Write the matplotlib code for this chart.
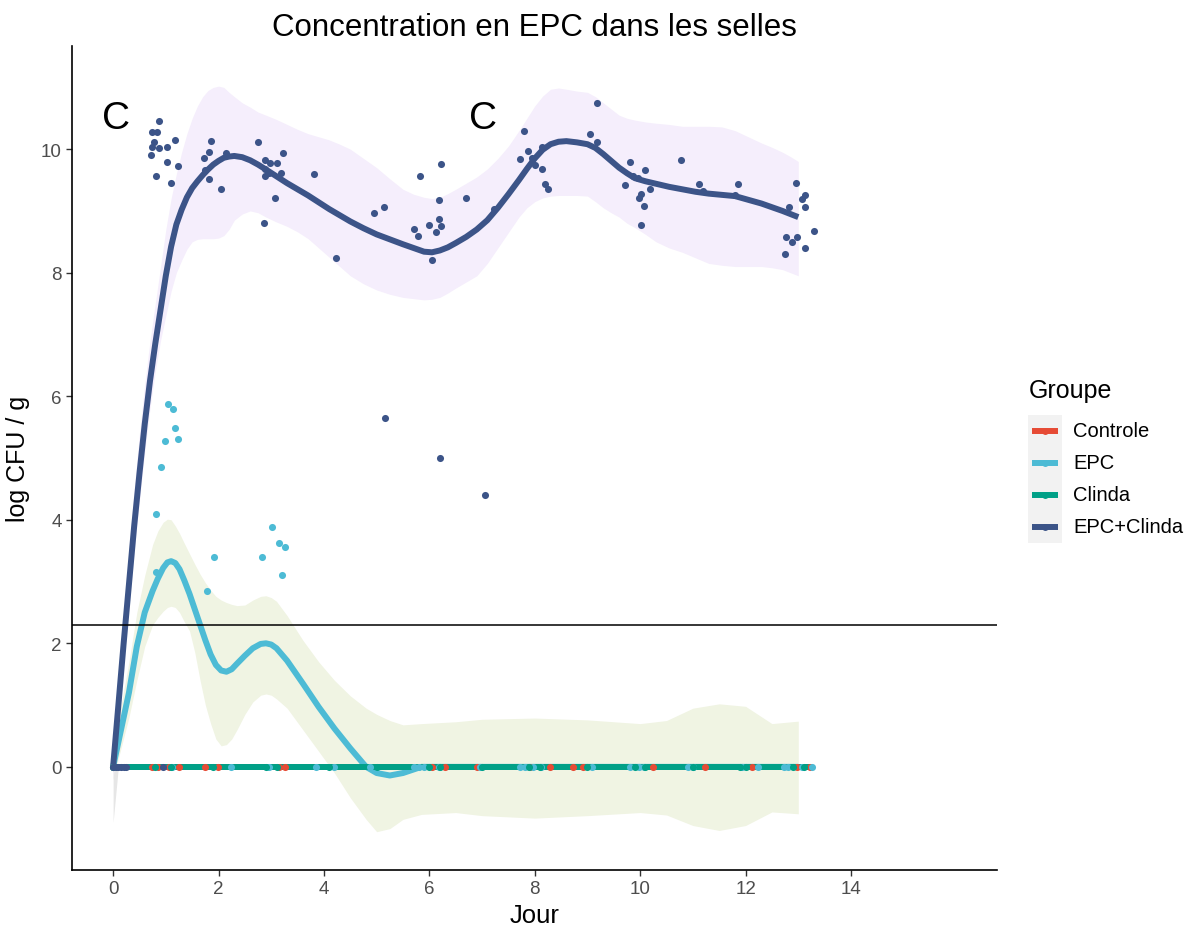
import numpy as np
import matplotlib.pyplot as plt
from matplotlib.patches import Rectangle
from matplotlib.lines import Line2D

plt.rcParams['font.family'] = ['Liberation Sans', 'DejaVu Sans']

groups = ['Controle', 'EPC', 'Clinda', 'EPC+Clinda']
colors = ['#E64B35', '#4DBBD5', '#00A087', '#3C5488']
band_ec_col = '#F5EEFC'
band_epc_col = '#F0F4E3'

# ---- smoothed curves ----
ec_sx = [0, 0.1, 0.2, 0.3, 0.4, 0.5, 0.6, 0.7, 0.8, 0.9, 1.0, 1.1, 1.2, 1.3, 1.4, 1.5, 1.6, 1.7,
         1.8, 1.9, 2.0, 2.1, 2.2, 2.3, 2.45, 2.6, 2.75, 2.9, 3.1, 3.3, 3.5, 3.7, 3.9, 4.1, 4.3, 4.5,
         4.75, 5.0, 5.25, 5.5, 5.7, 5.9, 6.05, 6.2, 6.35, 6.5, 6.7, 6.9, 7.1, 7.3, 7.5, 7.7, 7.85,
         8.0, 8.15, 8.3, 8.45, 8.6, 8.8, 9.0, 9.15, 9.3, 9.45, 9.6, 9.75, 9.9, 10.1, 10.3, 10.55,
         10.8, 11.05, 11.3, 11.55, 11.8, 12.05, 12.3, 12.5, 12.7, 12.85, 13.0]
ec_fit = [0, 1.0, 2.0, 2.95, 3.9, 4.75, 5.55, 6.25, 6.85, 7.4, 7.95, 8.42, 8.78, 9.02, 9.22, 9.37,
          9.48, 9.58, 9.67, 9.75, 9.81, 9.86, 9.88, 9.89, 9.87, 9.82, 9.75, 9.67, 9.56, 9.45, 9.35,
          9.25, 9.14, 9.03, 8.93, 8.83, 8.72, 8.62, 8.54, 8.46, 8.40, 8.34, 8.33, 8.36, 8.41, 8.48,
          8.58, 8.70, 8.85, 9.05, 9.27, 9.50, 9.68, 9.85, 9.99, 10.08, 10.12, 10.13, 10.11, 10.08,
          10.02, 9.92, 9.81, 9.70, 9.61, 9.53, 9.48, 9.44, 9.39, 9.35, 9.31, 9.28, 9.26, 9.24, 9.18,
          9.12, 9.06, 9.0, 8.95, 8.9]
ec_hi = [0.2, 1.3, 2.4, 3.5, 4.5, 5.4, 6.2, 6.9, 7.5, 8.1, 8.7, 9.2, 9.6, 9.95, 10.25, 10.5, 10.7,
         10.85, 10.95, 11.0, 11.02, 11.0, 10.92, 10.85, 10.75, 10.68, 10.6, 10.55, 10.48, 10.4, 10.32,
         10.25, 10.2, 10.15, 10.08, 10.0, 9.85, 9.7, 9.52, 9.35, 9.27, 9.22, 9.2, 9.22, 9.28, 9.35,
         9.45, 9.55, 9.68, 9.85, 10.05, 10.3, 10.5, 10.7, 10.86, 10.97, 10.99, 10.97, 10.94, 10.92,
         10.85, 10.75, 10.65, 10.55, 10.5, 10.47, 10.44, 10.42, 10.4, 10.37, 10.37, 10.37, 10.36,
         10.3, 10.2, 10.1, 10.03, 9.95, 9.88, 9.8]
ec_lo = [-0.2, 0.7, 1.7, 2.6, 3.5, 4.3, 5.1, 5.8, 6.4, 6.9, 7.3, 7.7, 8.0, 8.2, 8.38, 8.5, 8.54,
         8.55, 8.55, 8.55, 8.56, 8.6, 8.7, 8.85, 8.95, 9.0, 8.97, 8.9, 8.82, 8.75, 8.66, 8.55, 8.4,
         8.25, 8.1, 7.95, 7.82, 7.72, 7.65, 7.6, 7.58, 7.56, 7.57, 7.6, 7.67, 7.75, 7.85, 7.95, 8.15,
         8.4, 8.65, 8.9, 9.05, 9.15, 9.21, 9.24, 9.25, 9.25, 9.25, 9.24, 9.15, 9.05, 8.97, 8.9, 8.8,
         8.73, 8.62, 8.5, 8.4, 8.33, 8.24, 8.15, 8.12, 8.1, 8.1, 8.1, 8.08, 8.05, 8.0, 7.95]

epc_sx = [0, 0.15, 0.3, 0.45, 0.6, 0.75, 0.85, 0.95, 1.03, 1.1, 1.18, 1.26, 1.35, 1.45, 1.55,
          1.65, 1.75, 1.85, 1.95, 2.05, 2.15, 2.25, 2.35, 2.5, 2.65, 2.8, 2.9, 3.0, 3.1, 3.3, 3.6,
          3.9, 4.2, 4.5, 4.8, 5.0, 5.25, 5.5, 5.85, 6.5, 7.0, 8.0, 9.0, 10.0, 10.5, 11.0, 11.5,
          12.0, 12.5, 13.0]
epc_fit = [0, 0.6, 1.2, 1.95, 2.5, 2.85, 3.05, 3.22, 3.31, 3.33, 3.3, 3.2, 3.02, 2.8, 2.55,
           2.3, 2.05, 1.82, 1.65, 1.56, 1.54, 1.58, 1.67, 1.8, 1.92, 1.99, 2.0, 1.98, 1.92, 1.72,
           1.35, 0.97, 0.62, 0.3, 0.0, -0.1, -0.14, -0.1, 0.0, 0.0, 0, 0, 0, 0, 0, 0, 0, 0, 0, 0]
epc_hi = [0.2, 1.0, 1.7, 2.5, 3.1, 3.6, 3.82, 3.96, 4.01, 4.0, 3.9, 3.78, 3.62, 3.45, 3.28,
          3.12, 2.98, 2.86, 2.76, 2.7, 2.66, 2.63, 2.61, 2.62, 2.7, 2.76, 2.77, 2.74, 2.68, 2.45,
          2.05, 1.7, 1.4, 1.15, 0.95, 0.85, 0.75, 0.68, 0.7, 0.73, 0.77, 0.79, 0.76, 0.7, 0.75,
          0.95, 1.02, 0.98, 0.7, 0.74]
epc_lo = [-0.2, 0.3, 0.8, 1.4, 1.95, 2.3, 2.42, 2.52, 2.58, 2.6, 2.58, 2.5, 2.35, 2.2, 1.85,
          1.4, 1.0, 0.7, 0.45, 0.34, 0.36, 0.45, 0.6, 0.85, 1.05, 1.16, 1.18, 1.16, 1.1, 0.95,
          0.6, 0.25, -0.1, -0.5, -0.85, -1.05, -1.0, -0.85, -0.77, -0.74, -0.79, -0.83, -0.79,
          -0.74, -0.78, -0.95, -1.03, -0.95, -0.73, -0.76]

flat_sx = [0, 13.27]
flat_fit = [0, 0]
sliver_x = [0, 0.1]
sliver_lo = [-0.9, 0]
sliver_hi = [0, 0]

# ---- raw points ----
ec_x = [0.0, 0.05, 0.1, 0.15, 0.2, 0.25, 0.95,
        0.87, 0.74, 0.83, 0.77, 0.74, 0.87, 1.02, 1.17, 0.72, 1.02, 1.23, 0.82, 1.09,
        1.86, 1.81, 1.73, 2.15, 1.74, 1.81, 2.04,
        2.75, 3.22, 2.88, 2.98, 3.11, 2.89, 2.95, 3.19, 2.89, 3.08, 2.86,
        3.81, 4.22, 4.95, 5.14,
        5.83, 6.22, 6.18, 6.19, 5.99, 6.23, 5.70, 5.78, 6.13, 6.05, 6.70,
        7.23, 7.80, 9.18, 9.05, 9.19, 8.13, 7.87, 7.72, 7.94, 8.01, 8.13, 8.20, 8.25,
        9.80, 10.09, 9.87, 9.95, 9.71, 10.19, 10.01, 9.97, 10.07, 10.02,
        10.78, 11.12, 11.19, 11.86, 11.80,
        12.95, 13.12, 13.07, 13.12, 12.83, 13.29, 12.77, 12.98, 12.89, 13.13, 12.75,
        5.16, 6.20, 7.06]
ec_y = [0, 0, 0, 0, 0, 0, 0,
        10.46, 10.27, 10.28, 10.12, 10.03, 10.02, 10.04, 10.15, 9.91, 9.80, 9.72, 9.56, 9.45,
        10.13, 9.95, 9.86, 9.93, 9.66, 9.51, 9.35,
        10.12, 9.94, 9.82, 9.78, 9.77, 9.68, 9.62, 9.62, 9.57, 9.21, 8.81,
        9.59, 8.23, 8.97, 9.06,
        9.57, 9.76, 9.17, 8.87, 8.77, 8.75, 8.71, 8.59, 8.66, 8.21, 9.21,
        9.03, 10.30, 10.74, 10.24, 10.11, 10.03, 9.97, 9.84, 9.86, 9.74, 9.68, 9.44, 9.36,
        9.79, 9.67, 9.57, 9.53, 9.42, 9.35, 9.28, 9.21, 9.08, 8.78,
        9.82, 9.44, 9.33, 9.44, 9.26,
        9.45, 9.26, 9.19, 9.06, 9.06, 8.68, 8.58, 8.58, 8.50, 8.40, 8.30,
        5.65, 5.00, 4.40]

epc_x = [1.04, 1.13, 1.17, 0.99, 1.23, 0.90, 0.82, 1.92, 3.02, 3.14, 3.26, 2.83, 3.21, 1.78, 0.82,
         0.0, 1.12, 2.23, 2.95, 3.84, 4.19, 4.88, 5.70, 5.80, 5.89, 6.18, 6.96, 7.72, 7.82, 7.97,
         8.11, 9.08, 9.80, 9.97, 10.07, 10.91, 11.01, 11.93, 12.24, 12.72, 12.81, 13.07, 13.26]
epc_y = [5.88, 5.79, 5.49, 5.28, 5.31, 4.85, 4.09, 3.40, 3.88, 3.63, 3.56, 3.39, 3.11, 2.84, 3.16,
         0, 0, 0, 0, 0, 0, 0, 0, 0, 0, 0, 0, 0, 0, 0,
         0, 0, 0, 0, 0, 0, 0, 0, 0, 0, 0, 0, 0]

ctrl_x = [0.0, 0.74, 0.85, 1.06, 1.25, 1.75, 1.99, 3.14, 3.27, 6.05, 6.30, 6.9, 7.91, 8.29,
          8.73, 8.92, 10.25, 11.23, 12.12, 12.97, 13.22]
ctrl_y = [0] * len(ctrl_x)

clin_x = [0.0, 0.8, 1.1, 1.9, 2.9, 3.1, 4.1, 5.0, 6.0, 6.2, 7.0, 7.9, 8.1, 9.0, 9.9, 10.1,
          11.0, 11.9, 12.0, 12.9, 13.1]
clin_y = [0] * len(clin_x)

threshold = 2.3
annot_x = [0.06, 7.02]
annot_y = [10.5, 10.5]

# ---- figure ----
fig = plt.figure(figsize=(11.96, 9.28), dpi=100)
ax = fig.add_axes([72 / 1196, 1 - 871 / 928, (997 - 72) / 1196, (871 - 47) / 928])

# smooth layers, group order
ax.plot(flat_sx, flat_fit, color=colors[0], lw=4.3, solid_capstyle='butt', zorder=2)
ax.fill_between(epc_sx, epc_lo, epc_hi, color=band_epc_col, lw=0, zorder=1)
ax.plot(epc_sx, epc_fit, color=colors[1], lw=4.3, solid_capstyle='butt',
        solid_joinstyle='round', zorder=2)
ax.fill_between(sliver_x, sliver_lo, sliver_hi, color='#E6E6E6', lw=0, zorder=1)
ax.plot(flat_sx, flat_fit, color=colors[2], lw=4.3, solid_capstyle='butt', zorder=2)
ax.fill_between(ec_sx, ec_lo, ec_hi, color=band_ec_col, lw=0, zorder=1)
ax.plot(ec_sx, ec_fit, color=colors[3], lw=4.3, solid_capstyle='butt',
        solid_joinstyle='round', zorder=2)

# points
ax.scatter(ctrl_x, ctrl_y, s=26, color=colors[0], lw=0, zorder=3)
ax.scatter(epc_x, epc_y, s=26, color=colors[1], lw=0, zorder=3)
ax.scatter(clin_x, clin_y, s=26, color=colors[2], lw=0, zorder=3)
ax.scatter(ec_x, ec_y, s=26, color=colors[3], lw=0, zorder=3)

ax.axhline(threshold, color='black', lw=1.1, zorder=4)
for xa, ya in zip(annot_x, annot_y):
    ax.text(xa, ya, 'C', fontsize=28, ha='center', va='center', zorder=5)

ax.set_xlim(-0.78, 16.77)
ax.set_ylim(-1.67, 11.67)
ax.set_xticks([0, 2, 4, 6, 8, 10, 12, 14])
ax.set_yticks([0, 2, 4, 6, 8, 10])
ax.tick_params(colors='#333333', labelcolor='#4D4D4D', labelsize=13.5, length=4, width=1)
for s in ['top', 'right']:
    ax.spines[s].set_visible(False)
for s in ['left', 'bottom']:
    ax.spines[s].set_linewidth(1.2)
ax.set_xlabel('Jour', fontsize=18.5, labelpad=4)
ax.set_ylabel('log CFU / g', fontsize=18, labelpad=8)
ax.set_title('Concentration en EPC dans les selles', fontsize=22.5, pad=8)

# legend drawn in pixel space
lg = fig.add_axes([0, 0, 1, 1], facecolor='none')
lg.set_xlim(0, 1196)
lg.set_ylim(928, 0)
lg.axis('off')
lg.text(1029, 391, 'Groupe', fontsize=18, va='center', ha='left')
for i, (g, c) in enumerate(zip(groups, colors)):
    yc = 432 + 32 * i
    lg.add_patch(Rectangle((1028, yc - 16), 34, 32, color='#F2F2F2', lw=0))
    lg.add_line(Line2D([1032, 1058], [yc, yc], color=c, lw=4.3, solid_capstyle='butt'))
    lg.add_line(Line2D([1045], [yc], color=c, marker='o', ms=5, mew=0))
    lg.text(1073, yc, g, fontsize=14.5, va='center', ha='left')

fig.savefig('out.png', dpi=100)
